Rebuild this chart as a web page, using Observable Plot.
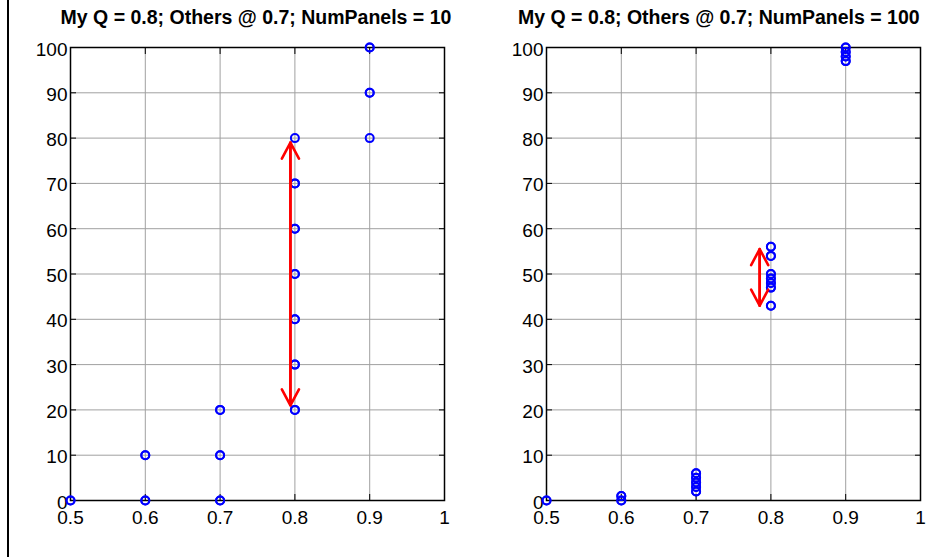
<!DOCTYPE html>
<html>
<head>
<meta charset="utf-8">
<script src="https://cdn.jsdelivr.net/npm/d3@7"></script>
<script src="https://cdn.jsdelivr.net/npm/@observablehq/plot@0.6"></script>
<style>
  html, body { margin: 0; padding: 0; background: #fff; }
  #fig { position: relative; width: 933px; height: 557px; overflow: hidden; background: #fff;
         font-family: "Liberation Sans", Arial, Helvetica, sans-serif; }
  .panel { position: absolute; top: 0; z-index: 1; }
  .title { position: absolute; top: 8px; font-weight: bold; font-size: 19.5px; line-height: 19.5px; white-space: nowrap; color: #000; z-index: 2; }
  #edge { position: absolute; left: 7px; top: 0; width: 2px; height: 557px; background: #000; z-index: 2; }
</style>
</head>
<body>
<div id="fig">
  <div id="edge"></div>
  <div class="title" id="t1" style="left:0px; width:512px; text-align:center;"></div>
  <div class="title" id="t2" style="left:518px;"></div>
  <div class="panel" id="p1" style="left:0px;"></div>
  <div class="panel" id="p2" style="left:466px;"></div>
</div>
<script>
// ---- data ----
const titles = ["My Q = 0.8; Others @ 0.7; NumPanels = 10", "My Q = 0.8; Others @ 0.7; NumPanels = 100"];
const xTicks = [0.5, 0.6, 0.7, 0.8, 0.9, 1];
const yTicks = [0, 10, 20, 30, 40, 50, 60, 70, 80, 90, 100];
const xTickLabels = ["0.5", "0.6", "0.7", "0.8", "0.9", "1"];

// Panel 1 (NumPanels = 10): quality, score, number of runs hitting that point
const q10 = [0.5, 0.6, 0.6, 0.7, 0.7, 0.7, 0.8, 0.8, 0.8, 0.8, 0.8, 0.8, 0.8, 0.9, 0.9, 0.9];
const s10 = [0,   0,   10,  0,   10,  20,  20,  30,  40,  50,  60,  70,  80,  80,  90,  100];
const n10 = [2,   2,   2,   2,   2,   2,   2,   2,   2,   2,   2,   2,   1,   1,   2,   2];

// Panel 2 (NumPanels = 100)
const q100 = [0.5, 0.6, 0.6, 0.7, 0.7, 0.7, 0.7, 0.7, 0.8, 0.8, 0.8, 0.8, 0.8, 0.8, 0.8, 0.9, 0.9, 0.9, 0.9];
const s100 = [0,   0,   1,   2,   3,   4,   5,   6,   43,  47,  48,  49,  50,  54,  56,  97,  98,  99,  100];
const n100 = [2,   2,   2,   2,   2,   2,   2,   2,   2,   2,   2,   2,   2,   2,   2,   2,   2,   2,   2];

// Spread arrows (my quality's score range)
const arrowX = [0.794, 0.785];
const arrowLow = [21, 43];
const arrowHigh = [79, 55.5];

function expand(q, s, n) {
  const out = [];
  q.forEach((qi, i) => { for (let k = 0; k < n[i]; k++) out.push({q: qi, s: s[i]}); });
  return out;
}

function panel(points, ai, width, marginLeft, marginRight) {
  const arrows = [
    {x: arrowX[ai], y1: arrowLow[ai], y2: arrowHigh[ai]},
    {x: arrowX[ai], y1: arrowHigh[ai], y2: arrowLow[ai]}
  ];
  return Plot.plot({
    width, height: 557,
    marginLeft, marginRight, marginTop: 47, marginBottom: 57,
    style: {fontFamily: '"Liberation Sans", Arial, Helvetica, sans-serif', fontSize: "19px", background: "#fff", color: "#000"},
    x: {domain: [0.5, 1], axis: null},
    y: {domain: [0, 100], axis: null},
    marks: [
      Plot.gridX(xTicks, {stroke: "#a0a0a0", strokeOpacity: 1, strokeWidth: 1}),
      Plot.gridY(yTicks, {stroke: "#a0a0a0", strokeOpacity: 1, strokeWidth: 1}),
      Plot.axisX(xTicks, {anchor: "bottom", tickSize: -6, tickFormat: () => "", strokeWidth: 1}),
      Plot.axisX(xTicks, {anchor: "top", tickSize: -6, tickFormat: () => "", strokeWidth: 1}),
      Plot.axisY(yTicks, {anchor: "left", tickSize: -6, tickFormat: () => "", strokeWidth: 1}),
      Plot.axisY(yTicks, {anchor: "right", tickSize: -6, tickFormat: () => "", strokeWidth: 1}),
      Plot.axisX(xTicks, {anchor: "bottom", tickSize: 0, tickPadding: 10, tickFormat: (d, i) => xTickLabels[i], fontSize: 19}),
      Plot.axisY(yTicks, {anchor: "left", tickSize: 0, tickPadding: 3, fontSize: 19, dy: 2}),
      Plot.frame({stroke: "#000", strokeWidth: 1.5}),
      Plot.dot(points, {x: "q", y: "s", r: 4, stroke: "#0000ff", strokeWidth: 2, fill: "none"}),
      Plot.arrow(arrows, {x: "x", y1: "y1", y2: "y2", stroke: "#ff0000", strokeWidth: 2.6, headLength: 10.5, headAngle: 56, bend: 0})
    ]
  });
}

document.getElementById("t1").textContent = titles[0];
document.getElementById("t2").textContent = titles[1];
document.getElementById("p1").appendChild(panel(expand(q10, s10, n10), 0, 466, 70, 22));
document.getElementById("p2").appendChild(panel(expand(q100, s100, n100), 1, 467, 80, 13));
</script>
</body>
</html>
